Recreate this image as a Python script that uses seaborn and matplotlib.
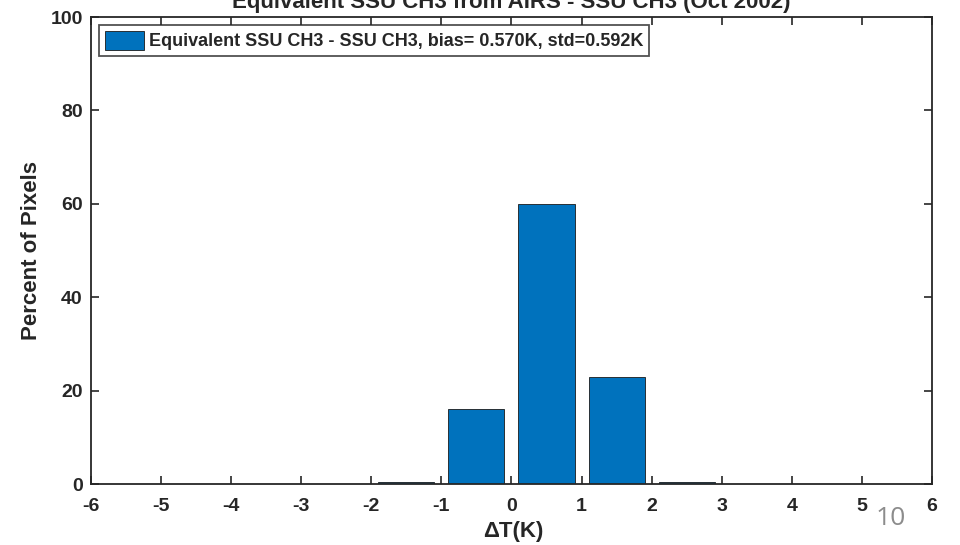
import matplotlib
matplotlib.use("Agg")
import matplotlib.pyplot as plt
import seaborn as sns
import pandas as pd

# Histogram of brightness temperature differences (bin centres in K, percent of pixels)
bin_centers = [-1.5, -0.5, 0.5, 1.5, 2.5]
percent_pixels = [0.4, 16.0, 60.0, 22.9, 0.4]
series_label = "Equivalent SSU CH3 - SSU CH3, bias= 0.570K, std=0.592K"
title_text = "Equivalent SSU CH3 from AIRS - SSU CH3 (Oct 2002)"
x_ticks = [-6, -5, -4, -3, -2, -1, 0, 1, 2, 3, 4, 5, 6]
y_ticks = [0, 20, 40, 60, 80, 100]

sns.set_theme(style="ticks")
plt.rcParams["font.family"] = ["Liberation Sans", "DejaVu Sans"]
plt.rcParams["font.weight"] = "bold"

df = pd.DataFrame({"dT": bin_centers, "pct": percent_pixels})

fig = plt.figure(figsize=(9.6, 5.45), dpi=100)
ax = fig.add_axes([0.0948, 0.1119, 0.876, 0.8569])

sns.barplot(data=df, x="dT", y="pct", native_scale=True, width=0.8,
            color="#0072BD", saturation=1, edgecolor="#1a1a1a", linewidth=0.6,
            label=series_label, ax=ax)

ax.set_xlim(-6, 6)
ax.set_ylim(0, 100)
ax.set_xticks(x_ticks)
ax.set_xticklabels([str(t) for t in x_ticks])
ax.set_yticks(y_ticks)
ax.tick_params(direction="in", length=6, width=1.2, top=True, right=True,
               labelsize=14, colors="#262626")
ax.tick_params(axis="x", pad=10)
ax.tick_params(axis="y", pad=6)
for lab in ax.get_xticklabels() + ax.get_yticklabels():
    lab.set_fontweight("bold")
for sp in ax.spines.values():
    sp.set_visible(True)
    sp.set_linewidth(1.3)
    sp.set_color("#262626")

ax.set_xlabel("\u0394T(K)", fontsize=16, fontweight="bold", color="#262626")
ax.set_ylabel("Percent of Pixels", fontsize=16, fontweight="bold", color="#262626")
ax.xaxis.set_label_coords(0.502, -0.079)
ax.xaxis.label.set_va("top")
ax.yaxis.set_label_coords(-0.058, 0.5)

leg = ax.legend(loc="upper left", fontsize=13, frameon=True, fancybox=False,
                borderpad=0.3, handlelength=2.2, handleheight=1.3, handletextpad=0.28,
                borderaxespad=0.45)
leg.get_frame().set_edgecolor("#262626")
leg.get_frame().set_linewidth(1.3)
for t in leg.get_texts():
    t.set_fontweight("bold")

fig.text(0.5325, 0.985, title_text, ha="center", va="baseline",
         fontsize=16, fontweight="bold", color="#262626")

# Slide page number
fig.text(0.928, 0.049, "10", ha="center", va="center", fontsize=19,
         fontweight="normal", color="#8c8c8c", family=["Open Sans", "DejaVu Sans"])

fig.savefig("out.png", dpi=100)
